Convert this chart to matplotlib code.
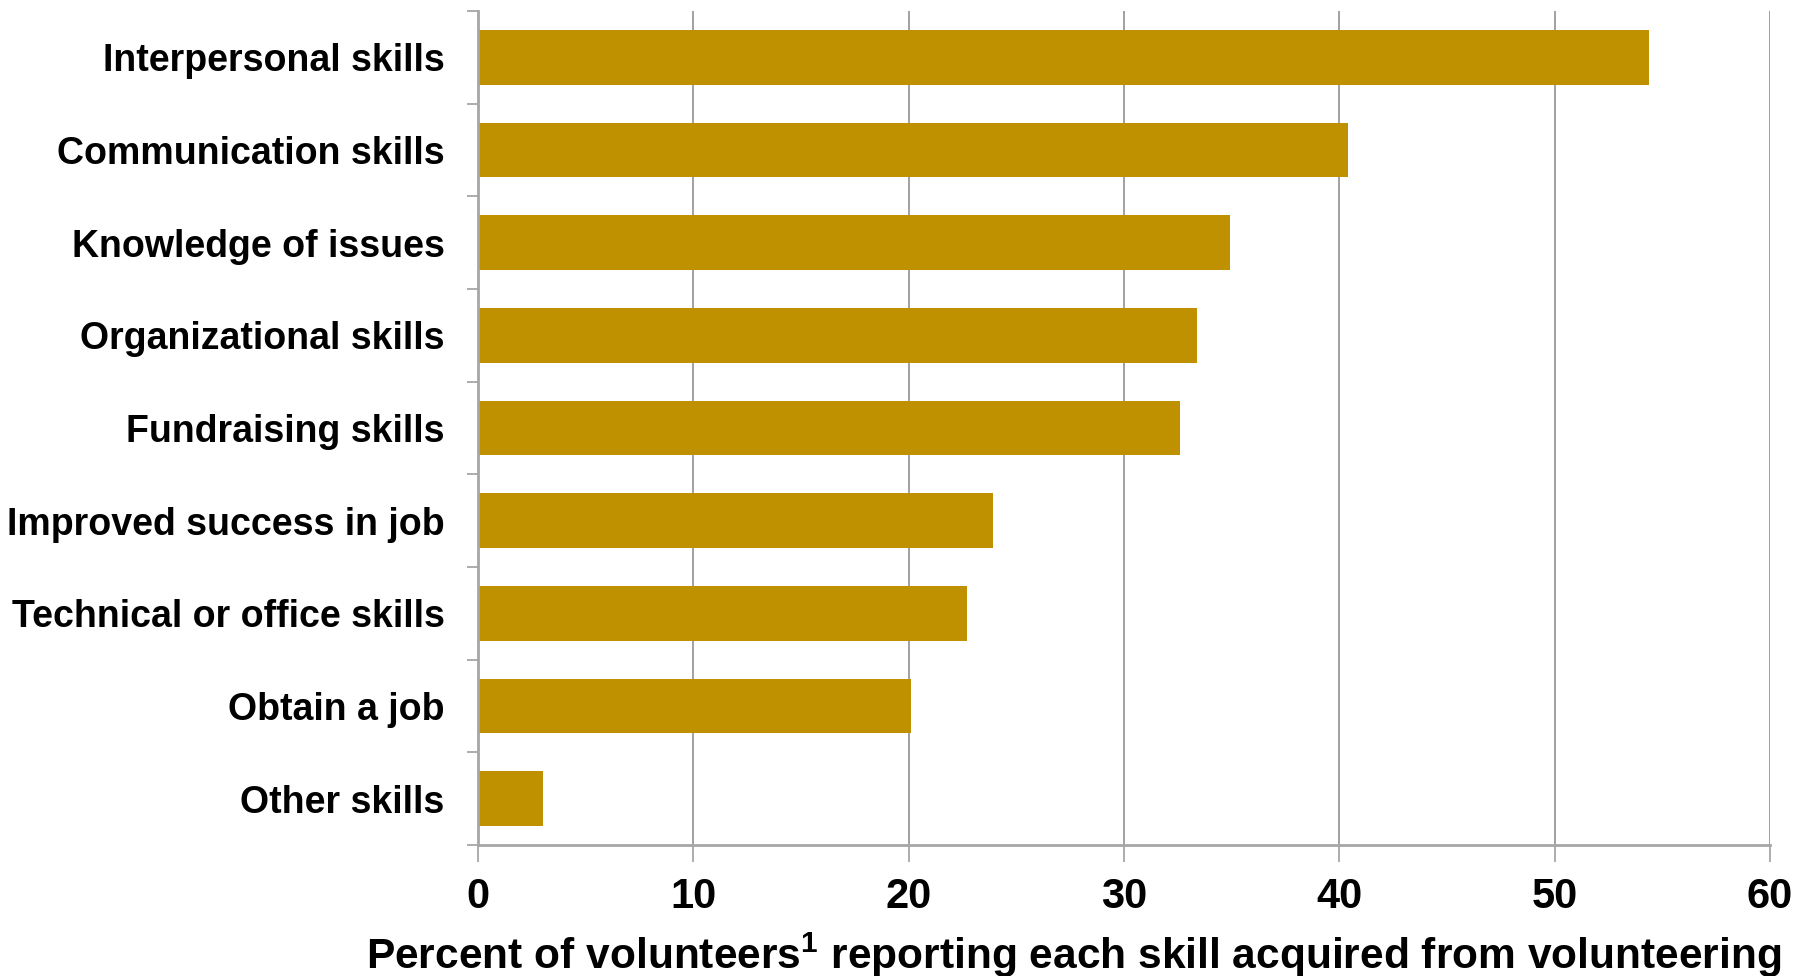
import matplotlib
matplotlib.use("Agg")
import matplotlib.pyplot as plt
import numpy as np

plt.rcParams['font.family'] = ['Liberation Sans', 'DejaVu Sans']
plt.rcParams['mathtext.fontset'] = 'custom'
plt.rcParams['mathtext.rm'] = 'Liberation Sans:bold'
plt.rcParams['mathtext.bf'] = 'Liberation Sans:bold'

skills = ['Interpersonal skills', 'Communication skills', 'Knowledge of issues',
          'Organizational skills', 'Fundraising skills', 'Improved success in job',
          'Technical or office skills', 'Obtain a job', 'Other skills']
percent = [54.4, 40.4, 34.9, 33.4, 32.6, 23.9, 22.7, 20.1, 3.0]
x_ticks = [0, 10, 20, 30, 40, 50, 60]

bar_color = '#BF9000'
grey = '#A6A6A6'

fig = plt.figure(figsize=(17.96, 9.76), dpi=100)
ax = fig.add_axes([478 / 1796, 1 - 845 / 976, (1770 - 478) / 1796, (845 - 11) / 976])

pos = np.arange(len(skills))
ax.barh(pos, percent, height=0.59, color=bar_color, zorder=3)

ax.set_xlim(0, 60)
ax.set_ylim(len(skills) - 0.5, -0.5)

ax.set_xticks(x_ticks)
ax.set_xticklabels([str(t) for t in x_ticks], fontsize=30, fontweight='bold')
ax.tick_params(axis='x', direction='out', length=12, width=1.3, color=grey, pad=11)
ax.grid(axis='x', color='#9A9A9A', linewidth=1.3, zorder=0)

ax.set_yticks(pos)
ax.set_yticklabels(skills, fontsize=27, fontweight='bold')
ax.set_yticks(np.arange(len(skills) + 1) - 0.5, minor=True)
ax.tick_params(axis='y', which='major', length=0, pad=24)
ax.tick_params(axis='y', which='minor', length=8, width=1.3, color=grey)

for side in ['top', 'right']:
    ax.spines[side].set_visible(False)
for side in ['left', 'bottom']:
    ax.spines[side].set_color(grey)
    ax.spines[side].set_linewidth(2)
    ax.spines[side].set_zorder(4)

fig.text(1781 / 1796, 1 - 969 / 976,
         'Percent of volunteers$^{1}$ reporting each skill acquired from volunteering',
         ha='right', va='baseline', fontsize=30.6, fontweight='bold')

fig.savefig('out.png', dpi=100)
